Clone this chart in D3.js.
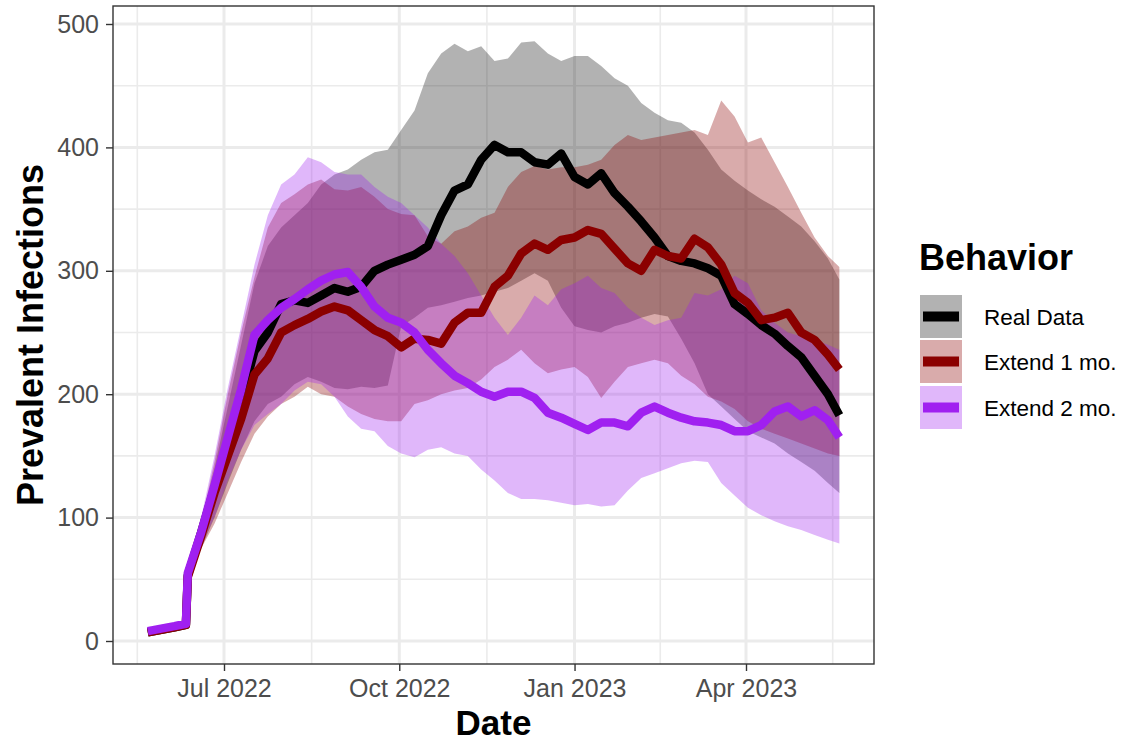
<!DOCTYPE html>
<html><head><meta charset="utf-8">
<script src="https://cdn.jsdelivr.net/npm/d3@7"></script>
<style>
body{margin:0;background:#fff}
text{font-family:"Liberation Sans",Arial,Helvetica,sans-serif}
</style>
</head><body>
<svg id="chart" width="1124" height="742"></svg>
<script>
// ---------- DATA ----------
const dates = ["2022-05-22","2022-05-29","2022-06-05","2022-06-11","2022-06-12","2022-06-19","2022-06-26",
"2022-07-03","2022-07-10","2022-07-17","2022-07-24","2022-07-31","2022-08-07","2022-08-14","2022-08-21","2022-08-28",
"2022-09-04","2022-09-11","2022-09-18","2022-09-25","2022-10-02","2022-10-09","2022-10-16","2022-10-23","2022-10-30",
"2022-11-06","2022-11-13","2022-11-20","2022-11-27","2022-12-04","2022-12-11","2022-12-18","2022-12-25",
"2023-01-01","2023-01-08","2023-01-15","2023-01-22","2023-01-29","2023-02-05","2023-02-12","2023-02-19","2023-02-26",
"2023-03-05","2023-03-12","2023-03-19","2023-03-26","2023-04-02","2023-04-09","2023-04-16","2023-04-23","2023-04-30",
"2023-05-07","2023-05-14","2023-05-20"];

const seriesNames = ["Real Data","Extend 1 mo.","Extend 2 mo."];

const realMean = [7,9,11,13,53,88,124,160,195,235,250,273,276,274,280,286,283,287,300,305,309,313,320,345,365,370,390,402,396,396,388,386,395,376,370,379,363,352,340,327,312,308,306,302,296,273,265,256,249,239,230,215,200,183];
const realLo   = [6,8,10,11,48,75,100,128,155,178,192,198,208,214,210,205,204,206,205,207,255,262,270,272,275,278,280,283,286,292,298,292,270,255,252,250,255,258,262,265,263,245,225,200,190,180,170,165,160,152,145,138,128,120];
const realHi   = [9,11,14,16,58,95,140,190,240,290,320,335,345,355,370,378,382,390,396,398,414,430,460,476,484,478,482,470,472,485,486,476,470,474,474,466,456,450,436,428,422,420,412,398,382,373,365,358,352,344,336,324,310,293];

const ext1Mean = [7,9,11,13,52,85,120,150,180,216,229,250,256,261,267,271,268,260,252,247,238,245,244,241,258,266,266,287,296,314,322,317,325,327,333,330,318,306,300,317,312,310,326,319,305,282,274,260,262,266,250,244,232,220];
const ext1Lo   = [6,8,10,11,48,75,95,120,145,168,182,192,198,206,200,198,190,184,180,178,178,192,195,200,203,205,212,222,228,236,225,217,220,222,214,197,210,222,225,228,225,215,208,198,194,188,178,172,168,164,160,156,152,150];
const ext1Hi   = [9,11,14,17,58,96,145,200,250,295,335,355,362,370,374,366,365,368,360,350,346,345,328,322,332,336,343,347,368,380,385,382,384,384,386,390,402,410,406,408,410,412,414,410,438,425,404,408,388,368,347,327,312,303];

const ext2Mean = [8,10,12,14,55,88,126,165,204,248,260,270,277,285,292,297,299,287,271,262,258,250,236,225,215,209,202,198,202,202,197,185,181,176,171,177,177,174,185,190,185,181,178,177,175,170,170,175,186,190,182,187,179,165];
const ext2Lo   = [6,8,10,12,50,78,100,130,155,175,184,192,203,210,208,198,182,172,170,158,152,149,155,157,152,150,139,130,120,115,115,114,112,110,111,109,110,122,132,136,140,144,146,145,128,118,108,102,97,93,90,86,82,79];
const ext2Hi   = [9,11,13,16,60,100,150,205,255,305,345,370,378,392,388,380,378,378,368,360,355,345,335,322,312,298,280,262,248,262,280,272,285,290,296,286,282,270,262,256,260,262,282,280,285,296,290,268,258,250,247,244,240,236];

const yTicks = [0,100,200,300,400,500];
const xTickDates = ["2022-07-01","2022-10-01","2023-01-01","2023-04-01"];
const xTickLabels = ["Jul 2022","Oct 2022","Jan 2023","Apr 2023"];
const xMinorRef = ["2022-04-01","2022-07-01","2022-10-01","2023-01-01","2023-04-01","2023-07-01"];

// ---------- STYLE ----------
const lineColors = ["#000000","#8B0000","#A020F0"];
const ribbonOpacity = [0.30,0.33,0.32];
const P = {l:113, r:874, t:6, b:664};

const parse = d3.utcParse("%Y-%m-%d");
const D = dates.map(parse);

const x = d3.scaleUtc().domain([parse("2022-07-01"), parse("2023-04-01")]).range([224,746]);
const y = d3.scaleLinear().domain([0,500]).range([641,24]);

const svg = d3.select("#chart");

svg.append("rect").attr("x",P.l).attr("y",P.t).attr("width",P.r-P.l).attr("height",P.b-P.t).attr("fill","#fff");

const grid = svg.append("g");
const xMinor = d3.pairs(xMinorRef.map(parse)).map(([a,b]) => new Date((a.getTime()+b.getTime())/2))
  .filter(d => x(d) > P.l && x(d) < P.r);
grid.selectAll(".xmin").data(xMinor).join("line")
  .attr("x1",d=>x(d)).attr("x2",d=>x(d)).attr("y1",P.t).attr("y2",P.b)
  .attr("stroke","#ebebeb").attr("stroke-width",1.6);
const yMinor = d3.range(50,500,100);
grid.selectAll(".ymin").data(yMinor).join("line")
  .attr("x1",P.l).attr("x2",P.r).attr("y1",d=>y(d)).attr("y2",d=>y(d))
  .attr("stroke","#ebebeb").attr("stroke-width",1.6);
grid.selectAll(".xmaj").data(xTickDates.map(parse)).join("line")
  .attr("x1",d=>x(d)).attr("x2",d=>x(d)).attr("y1",P.t).attr("y2",P.b)
  .attr("stroke","#ebebeb").attr("stroke-width",3);
grid.selectAll(".ymaj").data(yTicks).join("line")
  .attr("x1",P.l).attr("x2",P.r).attr("y1",d=>y(d)).attr("y2",d=>y(d))
  .attr("stroke","#ebebeb").attr("stroke-width",3);

const series = [
  {mean: realMean, lo: realLo, hi: realHi},
  {mean: ext1Mean, lo: ext1Lo, hi: ext1Hi},
  {mean: ext2Mean, lo: ext2Lo, hi: ext2Hi}
];

svg.append("clipPath").attr("id","pclip").append("rect")
  .attr("x",P.l).attr("y",P.t).attr("width",P.r-P.l).attr("height",P.b-P.t);
const plot = svg.append("g").attr("clip-path","url(#pclip)");

const area = (s) => d3.area().x((d,i)=>x(D[i])).y0((d,i)=>y(s.lo[i])).y1((d,i)=>y(s.hi[i]))(D);
const line = (s) => d3.line().x((d,i)=>x(D[i])).y((d,i)=>y(s.mean[i]))(D);

series.forEach((s,k) => {
  plot.append("path").attr("d", area(s)).attr("fill", lineColors[k]).attr("fill-opacity", ribbonOpacity[k]);
});
series.forEach((s,k) => {
  plot.append("path").attr("d", line(s)).attr("fill","none").attr("stroke", lineColors[k])
    .attr("stroke-width",8.5).attr("stroke-linejoin","round").attr("stroke-linecap","butt");
});

svg.append("rect").attr("x",P.l).attr("y",P.t).attr("width",P.r-P.l).attr("height",P.b-P.t)
  .attr("fill","none").attr("stroke","#333333").attr("stroke-width",1.4);

const yAxis = svg.append("g").attr("transform",`translate(${P.l},0)`)
  .call(d3.axisLeft(y).tickValues(yTicks).tickSize(7).tickPadding(7));
const xAxis = svg.append("g").attr("transform",`translate(0,${P.b})`)
  .call(d3.axisBottom(x).tickValues(xTickDates.map(parse)).tickFormat((d,i)=>xTickLabels[i]).tickSize(7).tickPadding(8));
[yAxis,xAxis].forEach(a => {
  a.select(".domain").remove();
  a.selectAll(".tick line").attr("stroke","#333333").attr("stroke-width",1.4);
  a.selectAll(".tick text").attr("fill","#4d4d4d").style("font-size","25px").style("font-family",'"Liberation Sans",Arial,sans-serif');
});

svg.append("text").attr("x",(P.l+P.r)/2).attr("y",735).attr("text-anchor","middle")
  .style("font-size","35px").style("font-weight","bold").attr("fill","#000").text("Date");
svg.append("text").attr("transform",`translate(43,${(P.t+P.b)/2}) rotate(-90)`).attr("text-anchor","middle")
  .style("font-size","36px").style("font-weight","bold").attr("fill","#000").text("Prevalent Infections");

const lg = svg.append("g");
lg.append("text").attr("x",919).attr("y",270).style("font-size","36px").style("font-weight","bold")
  .attr("fill","#000").text("Behavior");
const keyTop = [295,340,386];
seriesNames.forEach((name,k) => {
  lg.append("rect").attr("x",920).attr("y",keyTop[k]).attr("width",42).attr("height",43)
    .attr("fill",lineColors[k]).attr("fill-opacity",ribbonOpacity[k]);
  lg.append("line").attr("x1",923).attr("x2",959).attr("y1",keyTop[k]+21.5).attr("y2",keyTop[k]+21.5)
    .attr("stroke",lineColors[k]).attr("stroke-width",10);
  lg.append("text").attr("x",984).attr("y",keyTop[k]+30).style("font-size","22.5px").attr("fill","#000").text(name);
});
</script>
</body></html>
